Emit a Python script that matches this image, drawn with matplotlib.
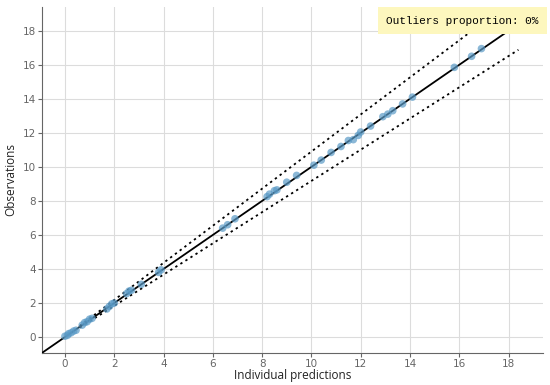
import matplotlib
matplotlib.use("Agg")
import matplotlib.pyplot as plt
import numpy as np

# individual predictions vs observations
pred = [0.0, 0.1, 0.15, 0.25, 0.35, 0.45, 0.7, 0.8, 0.9, 1.0, 1.1,
        1.7, 1.8, 1.9, 2.0, 2.5, 2.6, 2.7, 3.1, 3.8, 3.9,
        6.4, 6.6, 6.9, 8.2, 8.3, 8.5, 8.6, 9.0, 9.4,
        10.1, 10.4, 10.8, 11.2, 11.5, 11.7, 11.9, 12.0, 12.4,
        12.9, 13.1, 13.3, 13.7, 14.1, 15.8, 16.5, 16.9]
obs = [0.05, 0.1, 0.2, 0.25, 0.35, 0.4, 0.7, 0.85, 0.9, 1.05, 1.1,
       1.65, 1.8, 1.95, 2.0, 2.55, 2.7, 2.75, 3.1, 3.8, 3.95,
       6.4, 6.6, 6.95, 8.25, 8.4, 8.6, 8.65, 9.1, 9.5,
       10.1, 10.4, 10.85, 11.2, 11.55, 11.6, 11.85, 12.05, 12.4,
       12.95, 13.1, 13.3, 13.7, 14.1, 15.85, 16.5, 16.95]

xticks = [0, 2, 4, 6, 8, 10, 12, 14, 16, 18]
yticks = [0, 2, 4, 6, 8, 10, 12, 14, 16, 18]
band = 1.09  # prediction band factor

fig = plt.figure(figsize=(5.5, 3.85), dpi=100)
ax = fig.add_axes([0.0764, 0.083, 0.911, 0.899])
ax.set_xlim(-0.93, 19.4)
ax.set_ylim(-0.94, 19.4)

ax.grid(True, color="#dcdcdc", lw=0.8)
ax.set_axisbelow(True)

line = np.array([-0.93, 19.4])
ax.plot(line, line, color="black", lw=1.3, zorder=3)
bx = np.array([0.6, 18.4])
ax.plot(bx, bx * band, color="black", lw=1.3, ls=(0, (1.3, 2.0)), zorder=3)
ax.plot(bx, bx / band, color="black", lw=1.3, ls=(0, (1.3, 2.0)), zorder=3)

ax.scatter(pred, obs, s=30, color="#5a9ac6", alpha=0.7, edgecolors="none", zorder=4)

ax.set_xticks(xticks)
ax.set_yticks(yticks)
ax.tick_params(colors="#666666", labelsize=7.5, length=3, width=0.8, pad=1.5)
for s in ["top", "right"]:
    ax.spines[s].set_visible(False)
for s in ["left", "bottom"]:
    ax.spines[s].set_color("#666666")

ax.set_xlabel("Individual predictions", family="Open Sans", fontsize=8.5, color="#222222", labelpad=0)
ax.set_ylabel("Observations", family="Open Sans", fontsize=8.5, color="#222222", labelpad=4)

ax.text(0.991, 0.975, "Outliers proportion: 0%", transform=ax.transAxes,
        ha="right", va="top", family="Liberation Mono", fontsize=8,
        bbox=dict(boxstyle="square,pad=0.75", fc="#fdf7be", ec="none"), zorder=6)

fig.savefig("out.png", dpi=100)
